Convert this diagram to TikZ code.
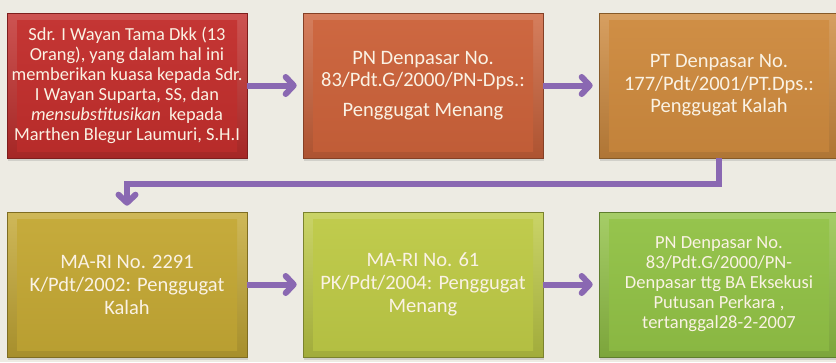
\documentclass[tikz,border=0pt]{standalone}
\usepackage{fontspec}
\setmainfont{Carlito}
\usetikzlibrary{arrows.meta,shadows}

\definecolor{bgpaper}{RGB}{237,235,227}
\definecolor{flowpurple}{RGB}{138,104,178}
\definecolor{textcream}{RGB}{250,242,228}
\definecolor{redbox}{RGB}{194,46,44}
\definecolor{rustbox}{RGB}{204,98,58}
\definecolor{amberbox}{RGB}{206,138,62}
\definecolor{olivebox}{RGB}{196,168,52}
\definecolor{limebox}{RGB}{190,202,70}
\definecolor{greenbox}{RGB}{146,194,70}

\tikzset{
  bevelbox/.style={
    minimum width=240pt, minimum height=145pt, inner xsep=0pt,
    align=center, text=textcream,
    draw=#1!65!black, line width=0.6pt,
    top color=#1!82!white, bottom color=#1!85!black,
    drop shadow={shadow xshift=1pt, shadow yshift=-3pt, opacity=0.25},
    path picture={
      \shade[top color=#1!96!white, bottom color=#1!94!black]
        ([shift={(10pt,-7pt)}]path picture bounding box.north west)
        rectangle ([shift={(-10pt,7pt)}]path picture bounding box.south east);
    }
  },
  flow/.style={draw=flowpurple, line width=6pt,
    -{Straight Barb[length=8pt,width=17pt,round]}, shorten >=6pt}
}

\begin{document}
\begin{tikzpicture}[x=1pt,y=-1pt]
  \fill[bgpaper] (0,0) rectangle (836,362);
  \clip (0,0) rectangle (836,362);

  % first row
  \node[bevelbox=redbox, font=\fontsize{18.4}{20}\selectfont] (kuasa) at (127,85.5)
    {Sdr. I Wayan Tama Dkk (13\\ Orang), yang dalam hal ini\\ memberikan kuasa kepada Sdr.\\
     I Wayan Suparta, SS, dan\\ \textit{mensubstitusikan}~ kepada\\ Marthen Blegur Laumuri, S.H.I};
  \node[bevelbox=rustbox, font=\fontsize{20.5}{22.5}\selectfont] (pn) at (423,85.5)
    {PN Denpasar No.\\ 83/Pdt.G/2000/PN-Dps.:\\[7pt] Penggugat Menang};
  \node[bevelbox=amberbox, font=\fontsize{20.5}{22.5}\selectfont] (pt) at (719,85.5)
    {PT Denpasar No.\\ 177/Pdt/2001/PT.Dps.:\\ Penggugat Kalah};

  % second row
  \node[bevelbox=olivebox, font=\fontsize{20.5}{23}\selectfont] (kasasi) at (127,284.5)
    {MA-RI No. 2291\\ K/Pdt/2002: Penggugat\\ Kalah};
  \node[bevelbox=limebox, font=\fontsize{20.5}{23}\selectfont] (pk) at (423,284.5)
    {MA-RI No. 61\\ PK/Pdt/2004: Penggugat\\ Menang};
  \node[bevelbox=greenbox, font=\fontsize{18.5}{20}\selectfont] (eksekusi) at (719,284.5)
    {PN Denpasar No.\\ 83/Pdt.G/2000/PN-\\ Denpasar ttg BA Eksekusi\\ Putusan Perkara ,\\ tertanggal28-2-2007};

  % arrows
  \draw[flow] (kuasa.east) -- (pn.west);
  \draw[flow] (pn.east) -- (pt.west);
  \draw[flow] (pt.south) -- ++(0,26) -| (kasasi.north);
  \draw[flow] (kasasi.east) -- (pk.west);
  \draw[flow] (pk.east) -- (eksekusi.west);
\end{tikzpicture}
\end{document}
